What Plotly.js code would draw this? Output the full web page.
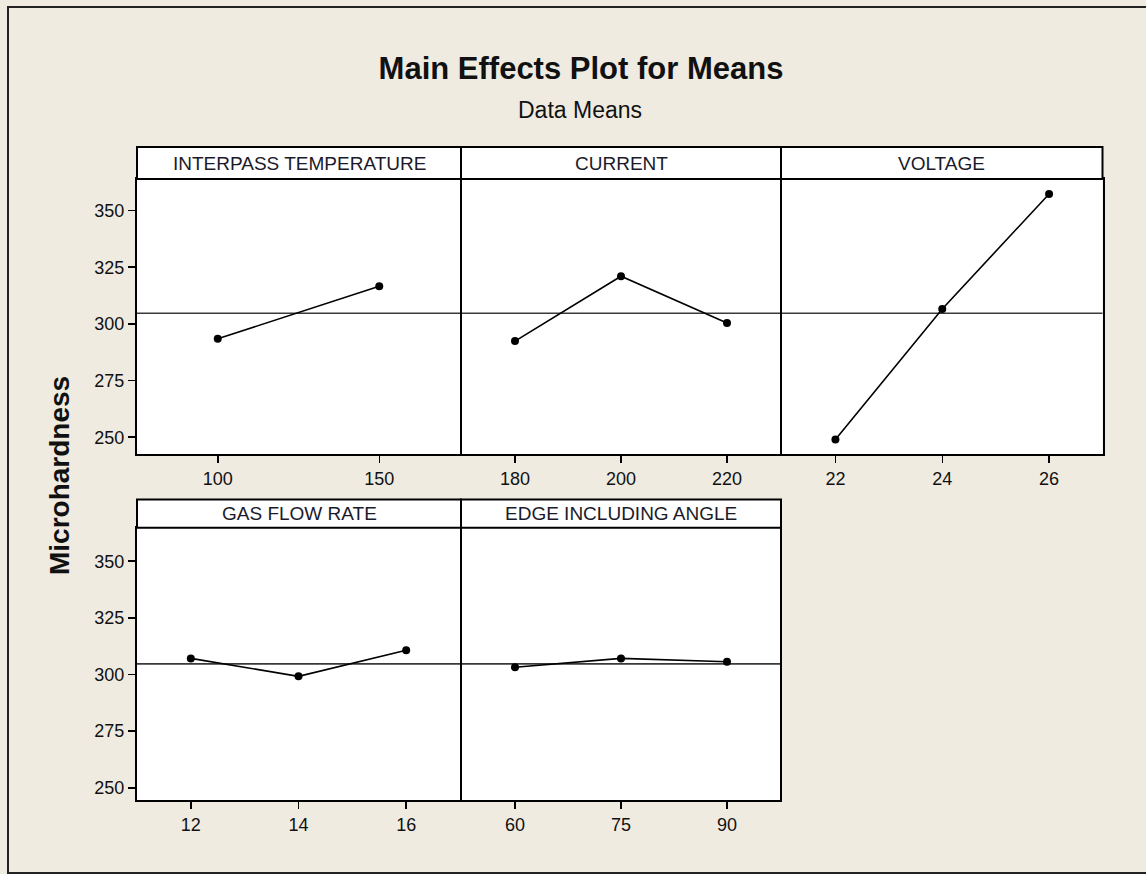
<!DOCTYPE html>
<html>
<head>
<meta charset="utf-8">
<script src="https://cdn.plot.ly/plotly-3.0.1.min.js"></script>
<style>html,body{margin:0;padding:0;background:#EFEBE1;}#chart{width:1146px;height:874px;}</style>
</head>
<body>
<div id="chart"></div>
<script>
// ---- data ----
const factorNames = ["INTERPASS TEMPERATURE", "CURRENT", "VOLTAGE", "GAS FLOW RATE", "EDGE INCLUDING ANGLE"];
const interpassLevels = [100, 150];
const interpassMeans  = [293.4, 316.6];
const currentLevels   = [180, 200, 220];
const currentMeans    = [292.4, 321.0, 300.4];
const voltageLevels   = [22, 24, 26];
const voltageMeans    = [249.0, 306.6, 357.3];
const gasLevels       = [12, 14, 16];
const gasMeans        = [307.1, 299.2, 310.7];
const angleLevels     = [60, 75, 90];
const angleMeans      = [303.2, 307.1, 305.6];
const grandMean       = 304.7;
const yTicks          = [250, 275, 300, 325, 350];

const W = 1146, H = 874;
const px = v => v / W;
const py = v => 1 - v / H;

const colEdges = [137, 461, 781, 1102.5];
const rows = [
  {plotTop: 179, plotBot: 454, headTop: 147},
  {plotTop: 527.7, plotBot: 800, headTop: 499.5}
];
const panels = [
  {lv: interpassLevels, mv: interpassMeans, col: 0, row: 0, xr: [75, 175], yr: [242.6, 363.9]},
  {lv: currentLevels, mv: currentMeans, col: 1, row: 0, xr: [170, 230], yr: [242.6, 363.9]},
  {lv: voltageLevels, mv: voltageMeans, col: 2, row: 0, xr: [21, 27], yr: [242.6, 363.9]},
  {lv: gasLevels, mv: gasMeans, col: 0, row: 1, xr: [11, 17], yr: [244.6, 364.8]},
  {lv: angleLevels, mv: angleMeans, col: 1, row: 1, xr: [52.5, 97.5], yr: [244.6, 364.8]}
];

const FONT = "Liberation Sans, Arial, sans-serif";
const data = [];
const layout = {
  width: W, height: H,
  margin: {l: 0, r: 0, t: 0, b: 0},
  paper_bgcolor: "#EFEBE1",
  plot_bgcolor: "#FFFFFF",
  showlegend: false,
  font: {family: FONT, color: "#111", size: 18},
  title: {text: "<b>Main Effects Plot for Means</b>", x: px(581), xanchor: "center",
          y: py(68), yanchor: "middle", font: {family: FONT, size: 31, color: "#111"}},
  shapes: [], annotations: []
};

panels.forEach((p, i) => {
  const n = i + 1;
  const xa = n === 1 ? "x" : "x" + n;
  const ya = n === 1 ? "y" : "y" + n;
  const r = rows[p.row];
  const left = colEdges[p.col] + (p.col > 0 ? 1 : 0);
  const right = colEdges[p.col + 1] - (p.col < 2 ? 1 : 0);
  data.push({
    type: "scatter", mode: "lines+markers", x: p.lv, y: p.mv, xaxis: xa, yaxis: ya,
    line: {color: "#000", width: 1.6},
    marker: {color: "#000", size: 8, symbol: "circle"},
    hoverinfo: "x+y"
  });
  layout["xaxis" + (n === 1 ? "" : n)] = {
    domain: [px(left), px(right)],
    anchor: ya, range: p.xr, tickvals: p.lv, ticktext: p.lv.map(String),
    ticks: "outside", ticklen: 7, tickwidth: 1.5, tickcolor: "#000",
    showline: true, linecolor: "#000", linewidth: 2, mirror: true,
    showgrid: false, zeroline: false, fixedrange: true,
    tickfont: {family: FONT, size: 18, color: "#111"}
  };
  layout["yaxis" + (n === 1 ? "" : n)] = {
    domain: [py(r.plotBot), py(r.plotTop)],
    anchor: xa, range: p.yr, tickvals: yTicks,
    ticks: p.col === 0 ? "outside" : "", ticklen: 7, tickwidth: 1.5, tickcolor: "#000",
    showticklabels: p.col === 0,
    showline: true, linecolor: "#000", linewidth: 2, mirror: true,
    showgrid: false, zeroline: false, fixedrange: true,
    tickfont: {family: FONT, size: 18, color: "#111"}
  };
  // grand-mean reference line
  layout.shapes.push({type: "line", xref: xa + " domain", yref: ya, x0: 0, x1: 1,
    y0: grandMean, y1: grandMean, line: {color: "#3a3a3a", width: 1.6}, layer: "below"});
  // header strip
  layout.shapes.push({type: "rect", xref: "paper", yref: "paper",
    x0: px(colEdges[p.col]), x1: px(colEdges[p.col + 1]), y0: py(r.plotTop), y1: py(r.headTop),
    fillcolor: "#FFFFFF", line: {color: "#000", width: 2}});
  layout.annotations.push({xref: "paper", yref: "paper",
    x: (px(colEdges[p.col]) + px(colEdges[p.col + 1])) / 2, y: (py(r.plotTop) + py(r.headTop)) / 2,
    xanchor: "center", yanchor: "middle", showarrow: false, text: factorNames[i],
    font: {family: FONT, size: 19, color: "#1a1a2a"}});
});

layout.annotations.push({xref: "paper", yref: "paper", x: px(580), y: py(110),
  xanchor: "center", yanchor: "middle", showarrow: false, text: "Data Means",
  font: {family: FONT, size: 23, color: "#111"}});
layout.annotations.push({xref: "paper", yref: "paper", x: px(59), y: py(476),
  xanchor: "center", yanchor: "middle", showarrow: false, textangle: -90,
  text: "<b>Microhardness</b>", font: {family: FONT, size: 28, color: "#111"}});
// outer frame
layout.shapes.push({type: "rect", xref: "paper", yref: "paper", x0: px(8), x1: px(1160),
  y0: py(873), y1: py(7), line: {color: "#222", width: 2}, fillcolor: "rgba(0,0,0,0)", layer: "below"});

Plotly.newPlot("chart", data, layout, {displayModeBar: false, staticPlot: true});
</script>
</body>
</html>
